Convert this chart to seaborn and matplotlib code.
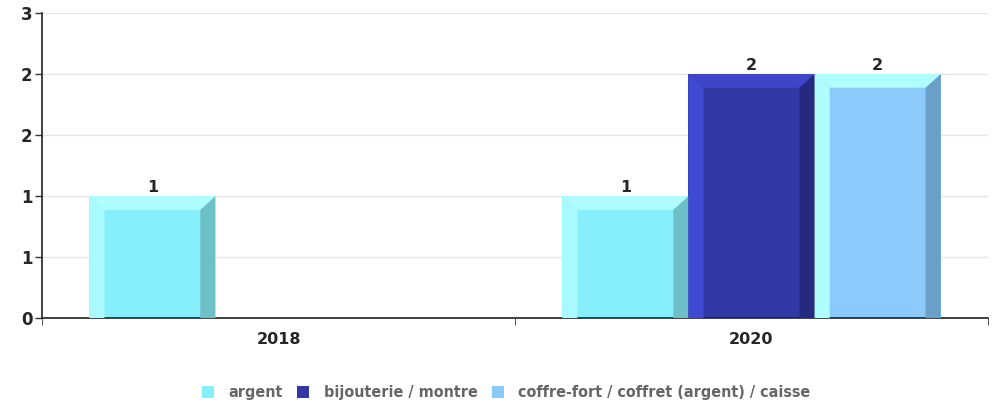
import pandas as pd
import seaborn as sns
import matplotlib.pyplot as plt
from matplotlib.patches import Polygon

# data
years = ["2018", "2020"]
argent = [1, 1]
bijouterie = [None, 2]
coffre = [None, 2]
series_names = ["argent", "bijouterie / montre", "coffre-fort / coffret (argent) / caisse"]
y_ticks = [0, 0.5, 1, 1.5, 2, 2.5]
y_tick_labels = ["0", "1", "1", "2", "2", "3"]

rows = []
for name, vals in zip(series_names, [argent, bijouterie, coffre]):
    for yr, v in zip(years, vals):
        if v is not None:
            rows.append({"year": yr, "type": name, "count": v})
df = pd.DataFrame(rows)

colors = {"argent": "#87EFFB", "bijouterie / montre": "#3238A5",
          "coffre-fort / coffret (argent) / caisse": "#8BCAFB"}
# bevel colours: left, top, right
bevel = {"argent": ("#A9FBFF", "#B0FDFF", "#6DBFC8"),
         "bijouterie / montre": ("#4049D2", "#3D45C8", "#262A7E"),
         "coffre-fort / coffret (argent) / caisse": ("#B0FDFF", "#B0FDFF", "#699FC8")}

sns.set_style("white")
plt.rcParams["font.family"] = ["DejaVu Sans"]

fig = plt.figure(figsize=(9.98, 4.04), dpi=100)
ax = fig.add_axes([42 / 998, 1 - 318 / 404, 946 / 998, 305 / 404])

sns.barplot(data=df, x="year", y="count", hue="type", order=years,
            hue_order=series_names, palette=colors, width=0.8,
            saturation=1, linewidth=0, ax=ax, legend=True)

ax.set_ylim(0, 2.5)
ax.set_xlim(-0.5, 1.5)

# fake 3D bevel on every bar
bx = 0.12
by = 0.045 * 2.5
for cont, name in zip(ax.containers, series_names):
    lc, tc, rc = bevel[name]
    for p in cont:
        x, w, h = p.get_x(), p.get_width(), p.get_height()
        if not h or h != h:
            continue
        b = bx * w
        ax.add_patch(Polygon([(x, 0), (x + b, 0), (x + b, h - by), (x, h)],
                             closed=True, fc=lc, ec="none", zorder=3))
        ax.add_patch(Polygon([(x + w, 0), (x + w - b, 0), (x + w - b, h - by), (x + w, h)],
                             closed=True, fc=rc, ec="none", zorder=3))
        ax.add_patch(Polygon([(x, h), (x + w, h), (x + w - b, h - by), (x + b, h - by)],
                             closed=True, fc=tc, ec="none", zorder=3))
    ax.bar_label(cont, fmt="%d", fontsize=11.5, fontweight="bold", padding=1)

ax.set_yticks(y_ticks)
ax.set_yticklabels(y_tick_labels, fontsize=12, fontweight="bold")
ax.yaxis.grid(True, color="#e6e6e6", linewidth=1)
ax.set_axisbelow(True)
ax.tick_params(axis="y", left=True, length=5, width=1, color="#333333", pad=2)

ax.set_xticks(range(len(years)))
ax.set_xticklabels(years, fontsize=11.5, fontweight="bold")
ax.set_xticks([-0.5, 0.5, 1.5], minor=True)
ax.tick_params(axis="x", which="major", length=0, pad=10)
ax.tick_params(axis="x", which="minor", bottom=True, length=5, color="#333333")
ax.set_xlabel("")
ax.set_ylabel("")

for s in ["top", "right"]:
    ax.spines[s].set_visible(False)
for s in ["left", "bottom"]:
    ax.spines[s].set_color("#222222")
    ax.spines[s].set_linewidth(1.2)

leg = ax.legend(loc="center", bbox_to_anchor=(0.491, -0.245), ncol=3, frameon=False,
                handlelength=0.75, handleheight=0.75, handletextpad=0.9, columnspacing=0.9,
                prop={"family": "DejaVu Sans", "stretch": "condensed", "weight": "bold", "size": 11.5})
for t in leg.get_texts():
    t.set_color("#666666")

fig.savefig("out.png", dpi=100)
